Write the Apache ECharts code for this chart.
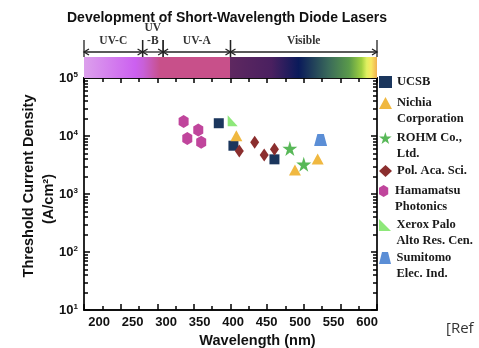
<!DOCTYPE html>
<html>
<head>
<meta charset="utf-8">
<style>html,body{margin:0;padding:0;background:#fff}#chart{width:479px;height:348px}</style>
<script src="https://cdn.jsdelivr.net/npm/echarts@6/dist/echarts.min.js"></script>
</head>
<body>
<div id="chart"></div>
<script>
// 数据点 [波长 nm, 阈值电流密度 A/cm2]
var ucsb = [[384, 16600], [404, 6800], [460, 3960]];
var nichia = [[408, 10100], [488, 2600], [519, 4000]];
var rohm = [[481, 6100], [500, 3250]];
var polAca = [[412, 5500], [433, 7800], [446, 4700], [460, 5900]];
var hamamatsu = [[336, 17700], [341, 9100], [356, 12700], [360, 7800]];
var xerox = [[403, 18400]];
var sumitomo = [[523, 8500]];

// 光谱色带
var bandStops = [200, 270, 281, 304, 399.5, 400, 456, 493, 534, 562, 579, 586, 592, 600];
var bandColors = ['#dca0ec', '#cc60f0', '#c860d8', '#c8508a', '#c8508a', '#5e2860', '#4a2060',
    '#0a1a5a', '#3a6a5a', '#5a9a4a', '#a0d040', '#e0f060', '#f8e860', '#f0b050'];
var regionEdges = [[200, 280], [280, 308], [308, 400], [400, 600]];
var regionNames = ['UV-C', 'UV\n-B', 'UV-A', 'Visible'];

// 刻度
var xTickLabels = [200, 250, 300, 350, 400, 450, 500, 550, 600];

var minorY = [];
for (var n = 1; n < 5; n++) {
    for (var k = 2; k <= 9; k++) minorY.push(n + Math.log10(k));
}

var labelFont = 'Liberation Sans';
var serifFont = 'Liberation Serif';

function renderBand(params, api) {
    var x0 = api.coord([api.value(0), 0])[0];
    var x1 = api.coord([api.value(1), 0])[0];
    var cs = params.coordSys;
    var stops = bandStops.map(function (v, i) {
        return {offset: (v - 200) / 400, color: bandColors[i]};
    });
    return {
        type: 'rect',
        shape: {x: x0, y: cs.y + 21, width: x1 - x0, height: 21},
        style: {fill: new echarts.graphic.LinearGradient(0, 0, 1, 0, stops)}
    };
}

function renderRegion(params, api) {
    var a = api.coord([api.value(0), 0])[0];
    var b = api.coord([api.value(1), 0])[0];
    var cs = params.coordSys;
    var yA = cs.y + 16;
    var st = {stroke: '#222', lineWidth: 1.3, fill: null};
    return {
        type: 'group',
        children: [
            {type: 'line', shape: {x1: a, y1: yA, x2: b, y2: yA}, style: st},
            {type: 'polyline', shape: {points: [[a + 5, yA - 3], [a, yA], [a + 5, yA + 3]]}, style: st},
            {type: 'polyline', shape: {points: [[b - 5, yA - 3], [b, yA], [b - 5, yA + 3]]}, style: st},
            {type: 'line', shape: {x1: a, y1: cs.y + 4, x2: a, y2: cs.y + 21}, style: st},
            {type: 'line', shape: {x1: b, y1: cs.y + 4, x2: b, y2: cs.y + 21}, style: st},
            {
                type: 'text',
                style: {
                    text: regionNames[params.dataIndex], x: (a + b) / 2, y: cs.y + 12,
                    align: 'center', verticalAlign: 'bottom', lineHeight: 13,
                    fontFamily: serifFont, fontWeight: 'bold', fontSize: 11.5, fill: '#333'
                }
            }
        ]
    };
}

var seriesDefs = [
    {name: 'UCSB', data: ucsb, symbol: 'rect', size: 10, color: '#1b365d', top: 82},
    {name: 'Nichia\nCorporation', data: nichia, symbol: 'triangle', size: [12, 11], color: '#f0b840', top: 103},
    {name: 'ROHM Co.,\nLtd.', data: rohm, symbol: 'path://M50,0 L61,35 L98,35 L68,57 L79,91 L50,70 L21,91 L32,57 L2,35 L39,35 Z', size: 15, color: '#58b858', top: 138},
    {name: 'Pol. Aca. Sci.', data: polAca, symbol: 'diamond', size: [9, 13], color: '#8b2e2e', top: 171},
    {name: 'Hamamatsu\nPhotonics', data: hamamatsu, symbol: 'path://M5,0 L10,3 L10,10 L5,13 L0,10 L0,3 Z', size: [10, 13], color: '#c0459c', top: 191},
    {name: 'Xerox Palo\nAlto Res. Cen.', data: xerox, symbol: 'path://M0,0 L0,10 L10,10 Z', size: [10, 11], color: '#8ee87a', top: 225},
    {name: 'Sumitomo\nElec. Ind.', data: sumitomo, symbol: 'path://M2.5,0 L7.5,0 L10,10 L0,10 Z', size: [13, 12], color: '#5b8ed6', top: 258}
];

var series = seriesDefs.map(function (s) {
    return {
        name: s.name, type: 'scatter', xAxisIndex: 0, yAxisIndex: 0,
        data: s.data, symbol: s.symbol, symbolSize: s.size,
        itemStyle: {color: s.color, opacity: 1}, z: 5
    };
});
series.push({
    type: 'custom', xAxisIndex: 3, yAxisIndex: 4, data: [[200, 600]],
    renderItem: renderBand, clip: false, silent: true
});
series.push({
    type: 'custom', xAxisIndex: 3, yAxisIndex: 4, data: regionEdges,
    renderItem: renderRegion, clip: false, silent: true
});

var legends = seriesDefs.map(function (s) {
    var two = s.name.indexOf('\n') >= 0;
    return {
        data: [s.name], left: 379, top: two ? s.top - 23.25 : s.top - 7.75,
        padding: 0, orient: 'vertical', selectedMode: false,
        itemWidth: 13, itemHeight: 12,
        formatter: function (n) { return two ? ' \n' + n : n; },
        textStyle: {fontFamily: serifFont, fontWeight: 'bold', fontSize: 12.5, lineHeight: 15.5, color: '#1a1a1a'}
    };
});

var lineSt = {color: '#111', width: 1.8};
var tickSt = {color: '#000', width: 1.5};
// 只要刻度线、不要文字的轴
var noText = {show: true, formatter: function () { return ''; }};

var option = {
    animation: false,
    title: {
        text: 'Development of Short-Wavelength Diode Lasers',
        left: 62, top: 6,
        textStyle: {fontFamily: labelFont, fontWeight: 'bold', fontSize: 14, color: '#111'}
    },
    legend: legends,
    graphic: [{
        type: 'text', left: 446, top: 321,
        style: {text: '[Ref', fontFamily: 'Open Sans', fontSize: 15, fill: '#333'}
    }],
    grid: [
        {left: 84, right: 102, top: 78, bottom: 38, outerBoundsMode: 'none'},
        {left: 84, right: 102, top: 36, height: 42, outerBoundsMode: 'none'}
    ],
    xAxis: [
        {
            type: 'value', gridIndex: 0, position: 'bottom', min: 200, max: 600, interval: 50,
            axisLine: {lineStyle: lineSt},
            axisTick: {show: true, inside: true, length: 6, lineStyle: tickSt},
            minorTick: {show: true, splitNumber: 2, length: 4, lineStyle: tickSt},
            axisLabel: noText, splitLine: {show: false}
        },
        {
            type: 'value', gridIndex: 0, position: 'top', min: 200, max: 600, interval: 50,
            axisLine: {lineStyle: lineSt},
            axisTick: {show: true, inside: true, length: 5, lineStyle: tickSt},
            minorTick: {show: true, splitNumber: 2, length: 4, lineStyle: tickSt},
            axisLabel: noText, splitLine: {show: false}
        },
        {
            type: 'value', gridIndex: 0, position: 'bottom', min: 177.5, max: 614.9,
            axisLine: {show: false}, axisTick: {show: false}, splitLine: {show: false},
            axisLabel: {
                customValues: xTickLabels, margin: 6,
                fontFamily: labelFont, fontWeight: 'bold', fontSize: 13, color: '#111'
            },
            name: 'Wavelength (nm)', nameLocation: 'middle', nameGap: 22,
            nameTextStyle: {fontFamily: labelFont, fontWeight: 'bold', fontSize: 14.5, color: '#111', padding: [0, 0, 0, 54]}
        },
        {type: 'value', gridIndex: 1, min: 200, max: 600, show: false}
    ],
    yAxis: [
        {
            type: 'log', gridIndex: 0, position: 'left', logBase: 10, min: 10, max: 100000,
            axisLine: {lineStyle: lineSt},
            axisTick: {show: true, inside: true, length: 6, lineStyle: tickSt},
            splitLine: {show: false},
            axisLabel: {
                margin: 6,
                formatter: function (v) { return '{b|10}{s|' + Math.round(Math.log10(v)) + '}'; },
                rich: {
                    b: {fontFamily: labelFont, fontWeight: 'bold', fontSize: 13, color: '#111', lineHeight: 14},
                    s: {fontFamily: labelFont, fontWeight: 'bold', fontSize: 8, color: '#111', verticalAlign: 'top', lineHeight: 8, padding: [0, 0, 6, 0]}
                }
            },
            name: 'Threshold Current Density', nameLocation: 'middle', nameGap: 48,
            nameTextStyle: {fontFamily: labelFont, fontWeight: 'bold', fontSize: 14.5, color: '#111', padding: [0, 0, 0, 16]}
        },
        {
            type: 'value', gridIndex: 0, position: 'left', min: 1, max: 5,
            axisLine: {show: false}, axisLabel: noText, splitLine: {show: false},
            axisTick: {show: true, inside: true, length: 4, customValues: minorY, lineStyle: tickSt},
            name: '(A/cm²)', nameLocation: 'middle', nameGap: 28,
            nameTextStyle: {fontFamily: labelFont, fontWeight: 'bold', fontSize: 14.5, color: '#111', padding: [0, 10, 0, 0]}
        },
        {
            type: 'value', gridIndex: 0, position: 'right', min: 1, max: 5, interval: 1,
            axisLine: {lineStyle: lineSt}, axisLabel: noText, splitLine: {show: false},
            axisTick: {show: true, inside: true, length: 6, lineStyle: tickSt}
        },
        {
            type: 'value', gridIndex: 0, position: 'right', min: 1, max: 5,
            axisLine: {show: false}, axisLabel: noText, splitLine: {show: false},
            axisTick: {show: true, inside: true, length: 4, customValues: minorY, lineStyle: tickSt}
        },
        {type: 'value', gridIndex: 1, min: 0, max: 1, show: false}
    ],
    series: series
};

var myChart = echarts.init(document.getElementById('chart'));
myChart.setOption(option);
</script>
</body>
</html>
